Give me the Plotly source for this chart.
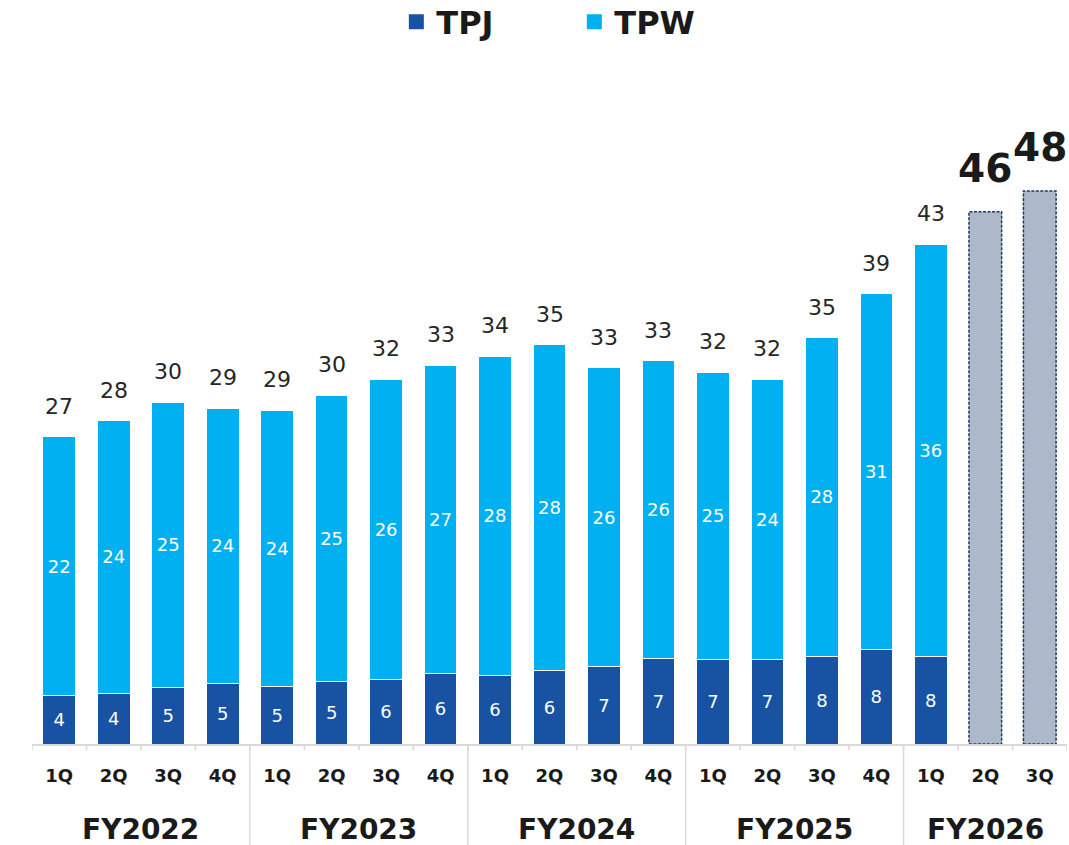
import plotly.graph_objects as go

years = ["FY2022", "FY2023", "FY2024", "FY2025", "FY2026"]
quarters = ["1Q", "2Q", "3Q", "4Q"] * 4 + ["1Q", "2Q", "3Q"]
tpj = [4.2, 4.4, 4.9, 5.2, 5.0, 5.4, 5.6, 6.1, 5.9, 6.4, 6.7, 7.4, 7.3, 7.3, 7.6, 8.2, 7.6]
tpw = [22.4, 23.6, 24.7, 23.9, 23.9, 24.8, 26.0, 26.7, 27.7, 28.2, 25.9, 25.8, 24.9, 24.3, 27.6, 30.8, 35.7]
forecast = [46.1, 47.9]

FONT = "DejaVu Sans"
C_TPJ = "#1752A3"
C_TPW = "#00B0F0"
n_act = len(tpj)
x_act = list(range(n_act))
x_fc = [n_act + i for i in range(len(forecast))]
n_all = n_act + len(forecast)
totals = [a + b for a, b in zip(tpj, tpw)]

fig = go.Figure()
fig.add_trace(go.Bar(
    x=x_act, y=tpj, showlegend=False,
    marker=dict(color=C_TPJ, line=dict(color="white", width=1)),
    text=[f"{v:.0f}" for v in tpj], textposition="inside", insidetextanchor="middle",
    textfont=dict(color="white", size=18, family=FONT),
))
fig.add_trace(go.Bar(
    x=x_act, y=tpw, showlegend=False,
    marker=dict(color=C_TPW, line=dict(color="white", width=1)),
    text=[f"{v:.0f}" for v in tpw], textposition="inside", insidetextanchor="middle",
    textfont=dict(color="white", size=18, family=FONT),
))
fig.add_trace(go.Bar(
    x=x_fc, y=forecast, showlegend=False,
    marker=dict(color="#ADB9CA", line=dict(width=0)),
))
# legend entries with square markers
for name, col in [("TPJ", C_TPJ), ("TPW", C_TPW)]:
    fig.add_trace(go.Scatter(x=[None], y=[None], mode="markers", name=f"<b>{name}</b>",
                             marker=dict(symbol="square", size=15, color=col)))

# dashed outline of forecast bars
for x, v in zip(x_fc, forecast):
    fig.add_shape(type="rect", xref="x", yref="y", x0=x - 0.3, x1=x + 0.3, y0=0, y1=v,
                  line=dict(color="#1F3864", width=1.5, dash="3px,1.5px"))

# totals
for x, v in zip(x_act, totals):
    fig.add_annotation(x=x, y=v, text=f"{v:.0f}", showarrow=False, yanchor="bottom", yshift=16,
                       font=dict(size=22, color="#262626", family=FONT))
for x, v in zip(x_fc, forecast):
    fig.add_annotation(x=x, y=v, text=f"<b>{v:.0f}</b>", showarrow=False, yanchor="bottom", yshift=19,
                       font=dict(size=39, color="#1A1A1A", family=FONT))

# axis ticks at category boundaries and year separators
for i in range(n_all + 1):
    fig.add_shape(type="line", xref="x", yref="paper", x0=i - 0.5, x1=i - 0.5, y0=0, y1=-0.01,
                  line=dict(color="#D9D9D9", width=1.5))
group_starts = [0, 4, 8, 12, 16]
for s in group_starts[1:]:
    fig.add_shape(type="line", xref="x", yref="paper", x0=s - 0.5, x1=s - 0.5, y0=0, y1=-0.17,
                  line=dict(color="#D9D9D9", width=1.5))
group_ends = group_starts[1:] + [n_all]
for yname, s, e in zip(years, group_starts, group_ends):
    fig.add_annotation(x=(s + e - 1) / 2, xref="x", y=-0.135, yref="paper", text=f"<b>{yname}</b>",
                       showarrow=False, yanchor="middle",
                       font=dict(size=28, color="#1A1A1A", family=FONT))

fig.update_layout(
    barmode="stack", bargap=0.4,
    width=1069, height=845,
    margin=dict(l=32, r=2, t=109, b=101),
    plot_bgcolor="white", paper_bgcolor="white",
    font=dict(family=FONT),
    showlegend=True,
    legend=dict(orientation="h", x=0.524, xanchor="center", yref="container", y=0.974, yanchor="middle",
                font=dict(size=32, color="#1A1A1A", family=FONT),
                entrywidth=133, traceorder="normal"),
    xaxis=dict(range=[-0.5, n_all - 0.5], tickvals=list(range(n_all)),
               ticktext=[f"<b>{q}</b>" for q in quarters],
               showline=True, linecolor="#D9D9D9", linewidth=2, ticks="", showgrid=False,
               zeroline=False, tickfont=dict(size=18, color="#1A1A1A", family=FONT),
               ticklabelstandoff=14),
    yaxis=dict(range=[0, 55], visible=False, showgrid=False),
)

fig.write_html("out.html", config={"displayModeBar": False},
               post_script="document.body.style.margin='0';")
